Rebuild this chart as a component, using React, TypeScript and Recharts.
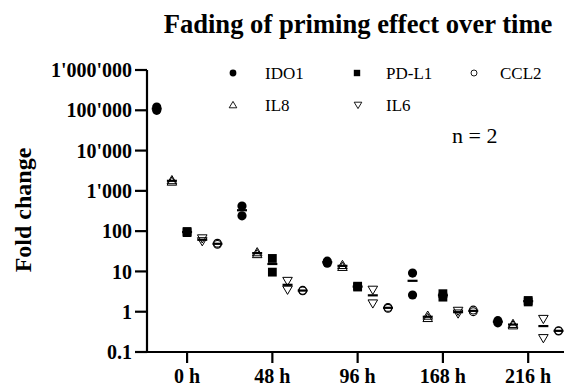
import React from 'react';
import { ScatterChart, Scatter, XAxis, YAxis } from 'recharts';

// ---- data ----
const timeLabels = ['0 h', '48 h', '96 h', '168 h', '216 h'];
const seriesNames = ['IDO1', 'IL8', 'PD-L1', 'IL6', 'CCL2'];
const yTicks = [0.1, 1, 10, 100, 1000, 10000, 100000, 1000000];

// two replicates per time point (n = 2)
const ido1Rep1 = [120000, 420, 18, 9.1, 0.6];
const ido1Rep2 = [100000, 240, 16, 2.6, 0.53];
const il8Rep1 = [1850, 30, 14.5, 0.8, 0.5];
const il8Rep2 = [1700, 27, 13, 0.7, 0.46];
const pdl1Rep1 = [98, 21, 4.3, 2.8, 1.9];
const pdl1Rep2 = [92, 9.6, 4.1, 2.3, 1.75];
const il6Rep1 = [66, 5.8, 3.5, 1.05, 0.66];
const il6Rep2 = [56, 3.5, 1.6, 0.9, 0.22];
const ccl2Rep1 = [50, 3.4, 1.28, 1.1, 0.34];
const ccl2Rep2 = [47, 3.3, 1.22, 1.0, 0.33];

const reps: number[][][] = [
  [ido1Rep1, ido1Rep2],
  [il8Rep1, il8Rep2],
  [pdl1Rep1, pdl1Rep2],
  [il6Rep1, il6Rep2],
  [ccl2Rep1, ccl2Rep2],
];

const W = 564;
const H = 387;
const STEP = 0.178; // within-group offset between series
const FONT = 'Liberation Serif';

const buildPoints = (s: number) => {
  const pts: { x: number; y: number }[] = [];
  timeLabels.forEach((_, i) => {
    reps[s].forEach((r) => pts.push({ x: i + (s - 2) * STEP, y: r[i] }));
  });
  return pts;
};
const buildMeans = (s: number) =>
  timeLabels.map((_, i) => ({
    x: i + (s - 2) * STEP,
    y: (reps[s][0][i] + reps[s][1][i]) / 2,
  }));

type SP = { cx?: number; cy?: number };
const FilledCircle = ({ cx = 0, cy = 0 }: SP) => <circle cx={cx} cy={cy} r={4.6} fill="#000" />;
const FilledSquare = ({ cx = 0, cy = 0 }: SP) => (
  <rect x={cx - 4.4} y={cy - 4.4} width={8.8} height={8.8} fill="#000" />
);
const OpenCircle = ({ cx = 0, cy = 0 }: SP) => (
  <circle cx={cx} cy={cy} r={3.9} fill="none" stroke="#000" strokeWidth={1.1} />
);
const UpTri = ({ cx = 0, cy = 0 }: SP) => (
  <polygon
    points={`${cx},${cy - 4.6} ${cx - 4.8},${cy + 3.6} ${cx + 4.8},${cy + 3.6}`}
    fill="none"
    stroke="#000"
    strokeWidth={1}
  />
);
const DownTri = ({ cx = 0, cy = 0 }: SP) => (
  <polygon
    points={`${cx},${cy + 4.6} ${cx - 4.8},${cy - 3.6} ${cx + 4.8},${cy - 3.6}`}
    fill="none"
    stroke="#000"
    strokeWidth={1}
  />
);
const MeanDash = ({ cx = 0, cy = 0 }: SP) => (
  <rect x={cx - 5} y={cy - 1.1} width={10} height={2.2} fill="#000" />
);

const shapes = [FilledCircle, UpTri, FilledSquare, DownTri, OpenCircle];

const fmt = (v: number) =>
  v < 1 ? String(v) : String(Math.round(v)).replace(/\B(?=(\d{3})+(?!\d))/g, "'");

const tickStyle = { fontFamily: FONT, fontWeight: 700, fontSize: 20, fill: '#000' };

// legend layout: [seriesIndex, markerX, textX, rowY]
const legendItems: [number, number, number, number][] = [
  [0, 233, 265, 73],
  [2, 357, 386, 73],
  [4, 474, 500, 73],
  [1, 233, 265, 105],
  [3, 358, 386, 105],
];

const LegendMarker = ({ s, x, y }: { s: number; x: number; y: number }) => {
  if (s === 0) return <circle cx={x} cy={y} r={3.4} fill="#000" />;
  if (s === 2) return <rect x={x - 3.2} y={y - 3.2} width={6.4} height={6.4} fill="#000" />;
  if (s === 4) return <circle cx={x} cy={y} r={3} fill="none" stroke="#000" strokeWidth={0.9} />;
  if (s === 1)
    return (
      <polygon
        points={`${x},${y - 3.6} ${x - 3.8},${y + 2.8} ${x + 3.8},${y + 2.8}`}
        fill="none"
        stroke="#000"
        strokeWidth={0.9}
      />
    );
  return (
    <polygon
      points={`${x},${y + 3.6} ${x - 3.8},${y - 2.8} ${x + 3.8},${y - 2.8}`}
      fill="none"
      stroke="#000"
      strokeWidth={0.9}
    />
  );
};

export default function App() {
  return (
    <div style={{ position: 'absolute', left: 0, top: 0, width: W, height: H, background: '#fff' }}>
      <ScatterChart width={W} height={H} margin={{ top: 70, right: 0, bottom: 0, left: 0 }}>
        <XAxis
          type="number"
          dataKey="x"
          domain={[-0.47, 4.42]}
          allowDataOverflow
          ticks={[0, 1, 2, 3, 4]}
          tickFormatter={(v: number) => timeLabels[Math.round(v)] ?? ''}
          height={35}
          tickSize={11}
          tickMargin={6}
          axisLine={{ stroke: '#000', strokeWidth: 2.2 }}
          tickLine={{ stroke: '#000', strokeWidth: 2.2 }}
          tick={tickStyle}
          interval={0}
        />
        <YAxis
          type="number"
          dataKey="y"
          scale="log"
          domain={[0.1, 1000000]}
          allowDataOverflow
          ticks={yTicks}
          tickFormatter={fmt}
          width={147}
          tickSize={12}
          tickMargin={3}
          axisLine={{ stroke: '#000', strokeWidth: 2.2 }}
          tickLine={{ stroke: '#000', strokeWidth: 2.2 }}
          tick={tickStyle}
          interval={0}
        />
        {seriesNames.map((name, s) => (
          <Scatter
            key={name}
            name={name}
            data={buildPoints(s)}
            shape={shapes[s] as any}
            isAnimationActive={false}
          />
        ))}
        {seriesNames.map((name, s) => (
          <Scatter
            key={name + '-mean'}
            name={name + ' mean'}
            data={buildMeans(s)}
            shape={MeanDash as any}
            isAnimationActive={false}
            legendType="none"
          />
        ))}
      </ScatterChart>
      <svg
        width={W}
        height={H}
        style={{ position: 'absolute', left: 0, top: 0, pointerEvents: 'none', fontFamily: FONT }}
      >
        <text
          x={358}
          y={33}
          textAnchor="middle"
          style={{ fontFamily: FONT, fontWeight: 700, fontSize: 26.6 }}
          fill="#000"
        >
          Fading of priming effect over time
        </text>
        <text
          transform="translate(31,210) rotate(-90)"
          textAnchor="middle"
          style={{ fontFamily: FONT, fontWeight: 700, fontSize: 24 }}
          fill="#000"
        >
          Fold change
        </text>
        {legendItems.map(([s, mx, tx, y]) => (
          <g key={s}>
            <LegendMarker s={s} x={mx} y={y} />
            <text x={tx} y={y + 5.5} style={{ fontFamily: FONT, fontSize: 17 }} fill="#000">
              {seriesNames[s]}
            </text>
          </g>
        ))}
        <text x={452} y={143} style={{ fontFamily: FONT, fontSize: 22 }} fill="#000">
          n = 2
        </text>
      </svg>
    </div>
  );
}
